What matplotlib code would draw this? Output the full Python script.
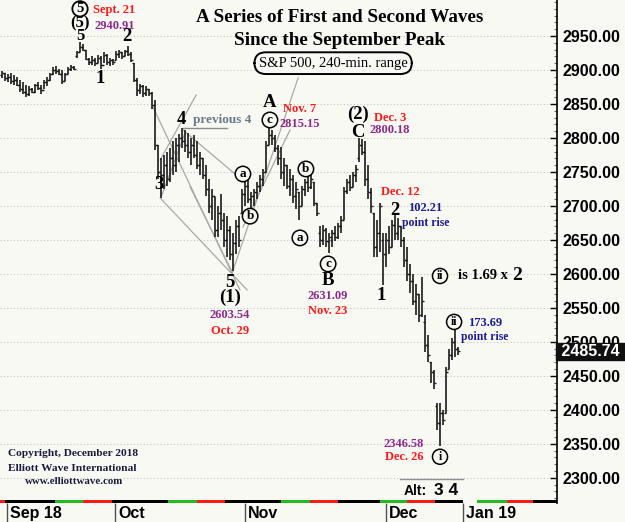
import matplotlib.pyplot as plt
from matplotlib.patches import Rectangle
import matplotlib.transforms as mtransforms
import numpy as np

# 240-min bars, S&P 500
highs = [2898, 2896, 2894, 2895, 2892, 2890, 2886, 2882, 2878, 2876,
         2874, 2880, 2882, 2878, 2886, 2890, 2896, 2904, 2906, 2902,
         2900, 2896, 2904, 2908, 2906, 2928, 2941, 2938, 2930, 2918,
         2920, 2918, 2922, 2920, 2926, 2924, 2918, 2916, 2928, 2930,
         2926, 2930, 2936, 2926, 2910, 2888, 2880, 2878, 2876, 2872,
         2868, 2856, 2790, 2770, 2775, 2780, 2785, 2795, 2800, 2806,
         2815, 2812, 2808, 2800, 2805, 2795, 2780, 2770, 2760, 2740,
         2725, 2713, 2700, 2718, 2690, 2685, 2670, 2660, 2680, 2685,
         2725, 2738, 2740, 2720, 2725, 2735, 2745, 2755, 2795, 2815,
         2812, 2805, 2790, 2787, 2770, 2760, 2755, 2745, 2735, 2720,
         2730, 2740, 2748, 2745, 2735, 2705, 2670, 2672, 2668, 2660,
         2665, 2670, 2675, 2685, 2728, 2740, 2745, 2750, 2760, 2800,
         2798, 2795, 2760, 2726, 2690, 2680, 2705, 2660, 2660, 2670,
         2680, 2686, 2682, 2670, 2655, 2640, 2615, 2600, 2585, 2570,
         2595, 2540, 2510, 2470, 2458, 2410, 2410, 2400, 2463, 2490,
         2506, 2520, 2492]
lows = [2888, 2884, 2882, 2880, 2878, 2876, 2868, 2864, 2860, 2862,
        2866, 2866, 2870, 2864, 2872, 2876, 2884, 2892, 2894, 2892,
        2880, 2884, 2894, 2898, 2900, 2918, 2926, 2928, 2914, 2908,
        2908, 2906, 2910, 2902, 2910, 2908, 2906, 2908, 2914, 2918,
        2916, 2920, 2920, 2912, 2882, 2862, 2864, 2860, 2862, 2862,
        2842, 2782, 2740, 2712, 2725, 2730, 2735, 2745, 2750, 2765,
        2785, 2780, 2770, 2760, 2770, 2755, 2745, 2740, 2715, 2690,
        2680, 2655, 2655, 2665, 2640, 2625, 2620, 2604, 2630, 2640,
        2690, 2700, 2705, 2695, 2700, 2710, 2720, 2730, 2750, 2790,
        2790, 2780, 2760, 2740, 2730, 2725, 2715, 2705, 2695, 2680,
        2700, 2715, 2720, 2725, 2700, 2685, 2640, 2642, 2640, 2631,
        2640, 2648, 2652, 2660, 2680, 2718, 2722, 2728, 2735, 2765,
        2775, 2730, 2710, 2690, 2625, 2625, 2632, 2583, 2610, 2630,
        2640, 2650, 2650, 2640, 2610, 2590, 2572, 2555, 2540, 2530,
        2537, 2485, 2470, 2440, 2430, 2370, 2347, 2378, 2396, 2460,
        2474, 2478, 2480]
opens = [2892, 2895, 2888, 2890, 2884, 2886, 2878, 2872, 2868, 2864,
         2872, 2868, 2878, 2874, 2870, 2882, 2886, 2894, 2900, 2898,
         2894, 2884, 2894, 2902, 2904, 2920, 2926, 2934, 2930, 2916,
         2912, 2914, 2910, 2918, 2908, 2922, 2912, 2914, 2914, 2924,
         2926, 2920, 2928, 2924, 2910, 2886, 2870, 2876, 2866, 2872,
         2866, 2848, 2790, 2750, 2745, 2760, 2740, 2770, 2760, 2790,
         2800, 2795, 2790, 2780, 2790, 2775, 2760, 2770, 2745, 2725,
         2700, 2715, 2665, 2690, 2680, 2650, 2665, 2630, 2645, 2670,
         2690, 2718, 2730, 2710, 2715, 2720, 2730, 2740, 2750, 2790,
         2805, 2800, 2785, 2770, 2750, 2760, 2730, 2740, 2715, 2720,
         2700, 2725, 2735, 2728, 2735, 2705, 2660, 2650, 2665, 2648,
         2650, 2660, 2655, 2670, 2680, 2722, 2735, 2728, 2745, 2770,
         2790, 2780, 2740, 2720, 2690, 2640, 2660, 2650, 2630, 2650,
         2640, 2672, 2660, 2670, 2650, 2620, 2600, 2590, 2560, 2570,
         2540, 2530, 2495, 2470, 2455, 2405, 2380, 2395, 2396, 2460,
         2480, 2500, 2490]
closes = [2895, 2888, 2890, 2884, 2886, 2878, 2872, 2868, 2864, 2872,
          2868, 2878, 2874, 2870, 2882, 2886, 2894, 2900, 2898, 2894,
          2884, 2894, 2902, 2904, 2902, 2926, 2934, 2930, 2916, 2912,
          2914, 2910, 2918, 2908, 2922, 2912, 2914, 2912, 2924, 2926,
          2920, 2928, 2924, 2914, 2886, 2870, 2876, 2866, 2872, 2866,
          2848, 2790, 2750, 2745, 2760, 2740, 2770, 2760, 2790, 2800,
          2795, 2790, 2780, 2790, 2775, 2760, 2770, 2745, 2725, 2700,
          2715, 2665, 2690, 2680, 2650, 2665, 2630, 2645, 2670, 2650,
          2718, 2730, 2710, 2715, 2720, 2730, 2740, 2750, 2790, 2805,
          2800, 2785, 2770, 2750, 2760, 2730, 2740, 2715, 2725, 2700,
          2725, 2735, 2728, 2740, 2705, 2690, 2650, 2665, 2648, 2655,
          2660, 2655, 2670, 2680, 2722, 2735, 2728, 2745, 2755, 2790,
          2780, 2740, 2720, 2700, 2640, 2660, 2700, 2630, 2650, 2640,
          2672, 2660, 2670, 2650, 2620, 2600, 2590, 2560, 2570, 2540,
          2560, 2495, 2480, 2455, 2440, 2380, 2395, 2385, 2455, 2480,
          2500, 2490, 2486]
last_price = 2485.74

month_labels = ['Sep 18', 'Oct', 'Nov', 'Dec', 'Jan 19']
month_pos = [1.7, 37.7, 81, 128, 153.7]
price_ticks = np.arange(2300, 2951, 50)

bg = '#f9f9f3'
red = '#ff1a1a'
purple = '#8a2a8a'
navy = '#1c1c8c'
chan = '#a8a8a8'
serif = 'Liberation Serif'
sans = 'Liberation Sans'

fig = plt.figure(figsize=(6.25, 5.22), dpi=100, facecolor=bg)
ax = fig.add_axes([0, 19 / 522, 557 / 625, 503 / 522], facecolor=bg)
ax.set_xlim(-0.67, 185)
ax.set_ylim(2263, 3003)

for p in price_ticks:
    ax.axhline(p, color='#c4c4c4', lw=0.8, ls=(0, (1, 2)), zorder=0)

idx = np.arange(len(highs))
ax.vlines(idx, lows, highs, color='#1a1a1a', lw=1.2, zorder=3)
ax.hlines(opens, idx - 0.6, idx, color='#1a1a1a', lw=1, zorder=3)
ax.hlines(closes, idx, idx + 0.6, color='#1a1a1a', lw=1, zorder=3)

# channel lines
channels = [
    ((52.7, 2711.8), (81.7, 2576.5)),
    ((50.3, 2845.6), (79.3, 2576.5)),
    ((60.3, 2811.8), (79.3, 2741.0)),
    ((62.7, 2728.0), (76.7, 2603.0)),
    ((52.7, 2767.6), (64.7, 2863.2)),
    ((53.3, 2716.0), (61.0, 2807.4)),
    ((76.7, 2601.5), (98.7, 2888.2)),
    ((80.3, 2669.0), (96.0, 2811.8)),
]
for (x0, y0), (x1, y1) in channels:
    ax.plot([x0, x1], [y0, y1], color=chan, lw=0.9, zorder=2)
ax.plot([60.3, 75], [2815, 2815], color='#8c8c8c', lw=1.0, zorder=2)
ax.plot([132.7, 153.7], [2298.5, 2298.5], color='#909090', lw=1.0)


def wave(x, y, s, size=13.5, color='black'):
    ax.text(x, y, s, fontsize=size, color=color, family=serif,
            fontweight='bold', ha='center', va='center', zorder=5)


def circ(x, y, s, size=9.5):
    ax.text(x, y, s, fontsize=size, family=serif, fontweight='bold',
            ha='center', va='center', zorder=5,
            bbox=dict(boxstyle='circle,pad=0.13', fc=bg, ec='black', lw=1.1))


def note(x, y, s, color, size=9):
    ax.text(x, y, s, fontsize=size, color=color, family=serif,
            fontweight='bold', ha='center', va='center', zorder=5)


ax.text(26, 2990, '5', fontsize=10.5, family=serif, fontweight='bold',
        ha='center', va='center',
        bbox=dict(boxstyle='circle,pad=0.08', fc=bg, ec='black', lw=1.3))
wave(26, 2968, '(5)', 12)
wave(26, 2950, '5', 12)
note(37.3, 2989, 'Sept. 21', red)
note(37.5, 2965, '2940.91', purple)
wave(41.6, 2950, '2')
wave(32.7, 2888, '1')
wave(59.7, 2827, '4')
ax.text(73.3, 2826.5, 'previous 4', fontsize=9.5, color='#687888',
        family=serif, fontweight='bold', ha='center', va='center')
wave(52.4, 2731, '3')
wave(76, 2587, '5')
wave(76, 2565, '(1)')
note(76, 2540, '2603.54', purple)
note(76, 2516, 'Oct. 29', red)
wave(89.3, 2851.5, 'A')
circ(89.3, 2826.5, 'c')
note(99.3, 2842.6, 'Nov. 7', red)
note(99.3, 2820.6, '2815.15', purple)
circ(80.3, 2747, 'a')
circ(82.7, 2685, 'b')
circ(101.3, 2754.4, 'b')
circ(99.3, 2653, 'a')
circ(108.7, 2614.7, 'c')
wave(108.7, 2589.7, 'B')
note(108.7, 2567.6, '2631.09', purple)
note(108.7, 2545.6, 'Nov. 23', red)
wave(118.7, 2835.3, '(2)')
wave(118.7, 2808.8, 'C')
note(129.3, 2829.4, 'Dec. 3', red)
note(129.3, 2811.8, '2800.18', purple)
note(132.7, 2720.6, 'Dec. 12', red)
wave(131, 2694, '2')
note(141, 2697, '102.21', navy)
note(141.3, 2675, 'point rise', navy, 8.5)
wave(126.3, 2569, '1')
circ(146, 2597, 'ii', 8.5)
ax.text(152, 2597, 'is 1.69 x', fontsize=10.5, family=serif, fontweight='bold',
        ha='left', va='center')
wave(171.7, 2597, '2', 14)
circ(150.7, 2529.4, 'ii', 8.5)
note(161, 2528, '173.69', navy)
note(161, 2507, 'point rise', navy, 8.5)
note(134, 2350, '2346.58', purple)
note(134, 2331, 'Dec. 26', red)
circ(146, 2331, 'i', 8.5)
ax.text(137.7, 2281, 'Alt:', fontsize=10, family=sans, fontweight='bold',
        ha='center', va='center')
ax.text(148, 2281, '3 4', fontsize=12.5, family=sans, fontweight='bold',
        ha='center', va='center')

# titles
fig.text(0.543, 0.967, 'A Series of First and Second Waves', fontsize=13.8,
         family=serif, fontweight='bold', ha='center', va='center')
fig.text(0.543, 0.923, 'Since the September Peak', fontsize=13.8,
         family=serif, fontweight='bold', ha='center', va='center')
fig.text(0.533, 0.879, 'S&P 500, 240-min. range', fontsize=10.5, family=serif,
         ha='center', va='center',
         bbox=dict(boxstyle='round,pad=0.3,rounding_size=0.8', fc=bg,
                   ec='black', lw=1.4))
for yy, s in [(0.132, 'Copyright, December 2018'),
              (0.1034, 'Elliott Wave International')]:
    fig.text(0.0128, yy, s, fontsize=8.2, family=serif, fontweight='bold',
             color='#1a1a40', ha='left', va='center')
fig.text(0.118, 0.0785, 'www.elliottwave.com', fontsize=7.8, family=serif,
         fontweight='bold', color='#1a1a40', ha='center', va='center')

# axes styling
for s in ['left', 'top', 'bottom']:
    ax.spines[s].set_visible(False)
ax.spines['right'].set_linewidth(1.2)
ax.yaxis.tick_right()
ax.set_yticks(price_ticks)
ax.set_yticklabels(['%.2f' % p for p in price_ticks], fontsize=11.5,
                   family=sans, fontweight='bold')
ax.set_yticks(np.arange(2270, 3001, 10), minor=True)
ax.tick_params(axis='y', which='major', direction='in', length=5, width=1,
               pad=4)
ax.tick_params(axis='y', which='minor', direction='in', length=2.5,
               width=0.8, color='#707070')

ax.set_xticks(month_pos)
ax.set_xticklabels(month_labels, fontsize=11.5, family=sans, fontweight='bold',
                   ha='left')
ax.tick_params(axis='x', direction='out', length=19, width=1, pad=-17,
               color='#505050')
off = mtransforms.ScaledTranslation(3 / 100, 0, fig.dpi_scale_trans)
for t in ax.get_xticklabels():
    t.set_transform(t.get_transform() + off)

# last price box
trans = mtransforms.blended_transform_factory(ax.transAxes, ax.transData)
ax.text(1.0, last_price, ' %.2f ' % last_price, transform=trans, fontsize=11.5,
        family=sans, fontweight='bold', color='white', ha='left', va='center',
        bbox=dict(boxstyle='square,pad=0.08', fc='#111111', ec='#111111'),
        clip_on=False, zorder=6)

# coloured strip along the bottom
strip = [(0, 5, red), (5, 55, 'black'), (55, 83, '#22bb22'), (83, 112, red),
         (112, 168, 'black'), (168, 197, '#22bb22'), (197, 225, red),
         (225, 281, 'black'), (281, 310, '#22bb22'), (310, 338, red),
         (338, 380, 'black'), (380, 407, '#22bb22'), (407, 435, red),
         (435, 463, 'black'), (477, 507, '#22bb22'), (507, 533, red),
         (533, 557, 'black')]
for a, b, c in strip:
    ax.add_patch(Rectangle((a / 557, 0), (b - a) / 557, 3 / 503,
                           transform=ax.transAxes, color=c, lw=0,
                           clip_on=False, zorder=4))

fig.savefig('out.png', dpi=100, facecolor=bg)
